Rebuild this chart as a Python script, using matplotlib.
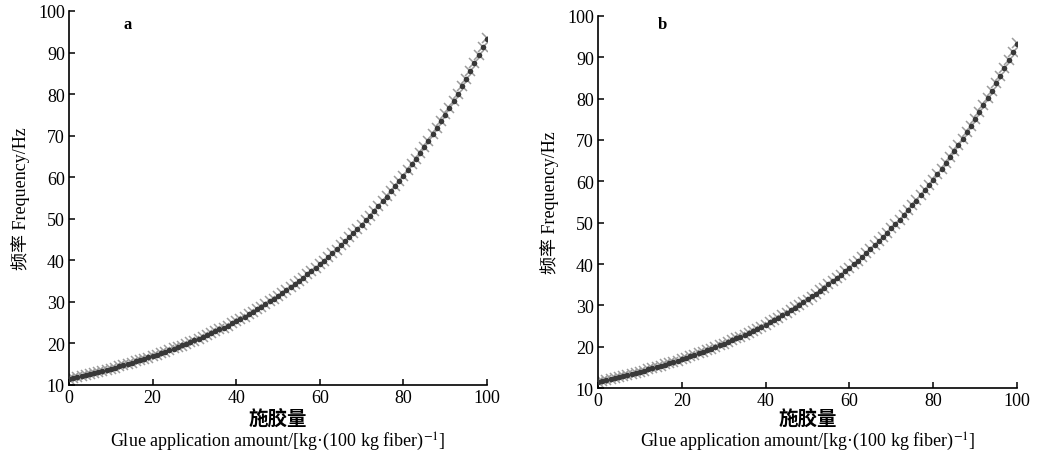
import matplotlib
matplotlib.use("Agg")
import matplotlib.pyplot as plt

plt.rcParams['font.family'] = ['Liberation Serif', 'Noto Sans CJK SC', 'DejaVu Sans']
plt.rcParams['mathtext.fontset'] = 'stix'

# Glue application amount (kg per 100 kg fiber)
glue_amount = list(range(0, 101))

# Frequency (Hz), measured points (dark circles)
freq_measured = [
    11.40, 11.63, 11.86, 12.10, 12.35, 12.59, 12.85, 13.11, 13.37, 13.64,
    13.92, 14.20, 14.48, 14.77, 15.07, 15.37, 15.68, 16.00, 16.32, 16.65,
    16.98, 17.33, 17.67, 18.03, 18.39, 18.76, 19.14, 19.53, 19.92, 20.32,
    20.73, 21.15, 21.57, 22.01, 22.45, 22.90, 23.36, 23.83, 24.31, 24.80,
    25.30, 25.86, 26.43, 27.01, 27.60, 28.21, 28.83, 29.46, 30.11, 30.77,
    31.45, 32.14, 32.85, 33.57, 34.31, 35.06, 35.83, 36.62, 37.43, 38.25,
    39.09, 39.95, 40.83, 41.73, 42.64, 43.58, 44.54, 45.52, 46.52, 47.54,
    48.59, 49.66, 50.75, 51.86, 53.00, 54.17, 55.36, 56.58, 57.82, 59.09,
    60.39, 61.72, 63.08, 64.47, 65.88, 67.33, 68.81, 70.33, 71.87, 73.45,
    75.07, 76.72, 78.41, 80.13, 81.89, 83.69, 85.53, 87.41, 89.34, 91.30,
    93.31,
]

# Frequency (Hz), fitted/predicted points (grey crosses)
freq_fitted = [
    11.5, 11.7, 11.9, 12.1, 12.3, 12.6, 12.8, 13.1, 13.4, 13.6,
    13.9, 14.2, 14.5, 14.8, 15.1, 15.4, 15.7, 16.0, 16.3, 16.6,
    17.0, 17.3, 17.7, 18.0, 18.4, 18.8, 19.1, 19.5, 19.9, 20.3,
    20.7, 21.1, 21.6, 22.0, 22.4, 22.9, 23.4, 23.8, 24.3, 24.8,
    25.3, 25.9, 26.4, 27.0, 27.6, 28.2, 28.8, 29.5, 30.1, 30.8,
    31.4, 32.1, 32.8, 33.6, 34.3, 35.1, 35.8, 36.6, 37.4, 38.2,
    39.1, 39.9, 40.8, 41.7, 42.6, 43.6, 44.5, 45.5, 46.5, 47.5,
    48.6, 49.7, 50.7, 51.9, 53.0, 54.2, 55.4, 56.6, 57.8, 59.1,
    60.4, 61.7, 63.1, 64.5, 65.9, 67.3, 68.8, 70.3, 71.9, 73.5,
    75.1, 76.7, 78.4, 80.1, 81.9, 83.7, 85.5, 87.4, 89.3, 91.3,
    93.4,
]

x_ticks = [0, 20, 40, 60, 80, 100]
y_ticks = [10, 20, 30, 40, 50, 60, 70, 80, 90, 100]
panel_labels = ['a', 'b']

W, H = 1043, 456
fig = plt.figure(figsize=(W / 100, H / 100), dpi=100)

# axes boxes in pixels: left, right, top, bottom
boxes = [(69, 487, 12, 386), (598, 1017, 17, 389)]
label_pos = [(0.130, 0.965), (0.143, 0.978)]

for i, (l, r, t, b) in enumerate(boxes):
    ax = fig.add_axes([l / W, 1 - b / H, (r - l) / W, (b - t) / H])
    ax.plot(glue_amount, freq_fitted, linestyle='none', marker='x',
            markersize=6.5, markeredgewidth=1.1, color='#9c9c9c', zorder=2)
    ax.plot(glue_amount, freq_measured, linestyle='none', marker='o',
            markersize=4.0, markeredgewidth=0, color='#383838', zorder=3)
    ax.set_xlim(0, 100)
    ax.set_ylim(10, 100)
    ax.set_xticks(x_ticks)
    ax.set_yticks(y_ticks)
    ax.spines['top'].set_visible(False)
    ax.spines['right'].set_visible(False)
    for s in ('left', 'bottom'):
        ax.spines[s].set_linewidth(1.2)
    ax.tick_params(direction='in', length=4, width=1.1, labelsize=13, pad=3)
    for lab in ax.get_xticklabels() + ax.get_yticklabels():
        lab.set_fontfamily('Liberation Serif')
    ax.text(label_pos[i][0], label_pos[i][1], panel_labels[i], transform=ax.transAxes,
            fontsize=12, fontweight='bold', ha='left', va='center',
            family='Liberation Serif')
    ax.set_ylabel('频率 Frequency/Hz', fontsize=13, labelpad=6,
                  family=['Liberation Serif', 'Noto Sans CJK SC'])
    cx = (l + r) / 2 / W
    fig.text(cx, 1 - 419 / H, '施胶量', ha='center', va='center', fontsize=14,
             fontweight='bold', family=['Noto Sans CJK SC'])
    fig.text(cx, 1 - 442 / H,
             'Glue application amount/[kg·(100 kg fiber)$^{-1}$]',
             ha='center', va='center', fontsize=13,
             family=['Liberation Serif', 'DejaVu Sans'])

fig.savefig('out.png', dpi=100, facecolor='white')
